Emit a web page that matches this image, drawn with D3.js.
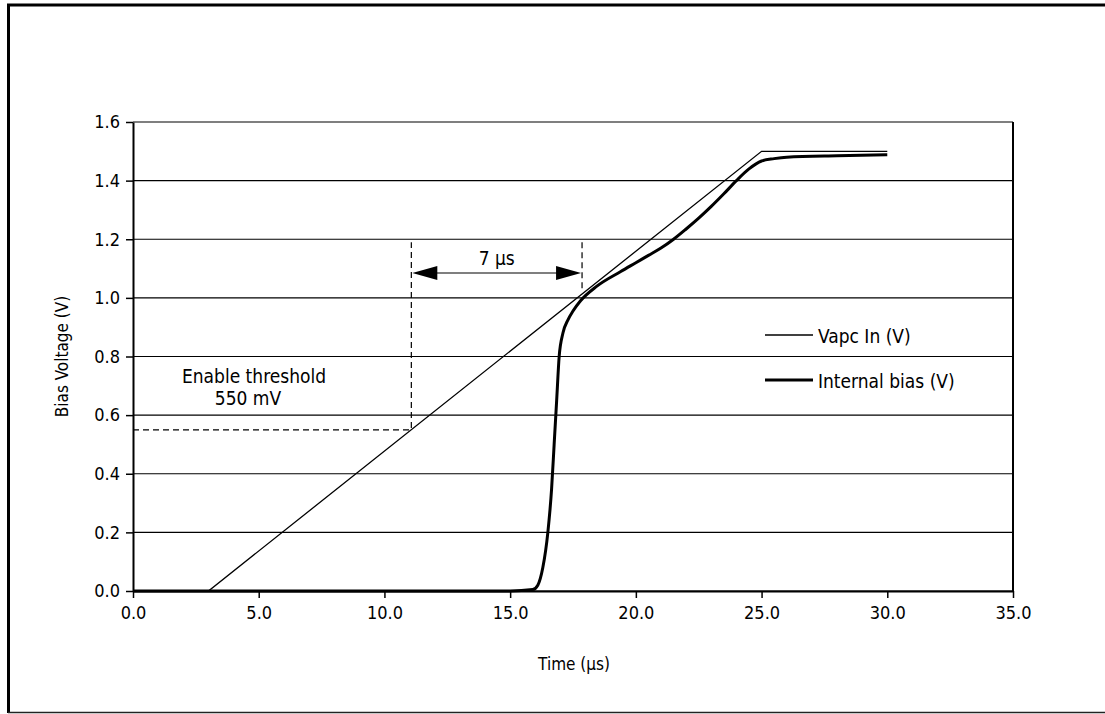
<!DOCTYPE html>
<html>
<head>
<meta charset="utf-8">
<script src="https://cdn.jsdelivr.net/npm/d3@7"></script>
<style>
  body { margin: 0; background: #fff; }
  text { font-family: "Liberation Sans Narrow", "Arial Narrow", "DejaVu Sans Condensed", "Roboto Condensed", sans-serif; fill: #000; }
</style>
</head>
<body>
<svg width="1105" height="714"></svg>
<script>
// Vapc In (V)
const vapcTime = [0, 3.0, 25.0, 30.0]
const vapcValue = [0, 0, 1.5, 1.5]

// Internal bias (V)
const biasTime = [0, 15.0, 15.9, 16.1, 16.3, 16.5, 16.65, 16.75, 16.85, 16.95, 17.1, 17.3, 17.5, 17.8, 18.45, 19.4, 20.0, 20.5, 21.0, 21.5, 22.0, 22.5, 23.0, 23.5, 24.0, 24.5, 25.0, 25.5, 26.0, 28.0, 30.0]
const biasValue = [0, 0, 0.005, 0.02, 0.08, 0.2, 0.35, 0.5, 0.65, 0.8, 0.88, 0.925, 0.955, 0.99, 1.04, 1.09, 1.12, 1.145, 1.17, 1.2, 1.235, 1.272, 1.312, 1.355, 1.4, 1.44, 1.467, 1.475, 1.48, 1.485, 1.488]

const xTicks = [0, 5, 10, 15, 20, 25, 30, 35]
const yTicks = [0, 0.2, 0.4, 0.6, 0.8, 1.0, 1.2, 1.4, 1.6]

const threshold = 0.55
const thresholdTime = 11.07
const delayEnd = 17.86
const delayLabel = '7 µs'

const svg = d3.select('svg')
const plotL = 133, plotR = 1013, plotT = 122, plotB = 591

const x = d3.scaleLinear().domain([0, 35]).range([plotL, plotR])
const y = d3.scaleLinear().domain([0, 1.6]).range([plotB, plotT])

// outer border
svg.append('line').attr('x1', 7).attr('x2', 1105).attr('y1', 5).attr('y2', 5)
    .style('stroke', '#000').style('stroke-width', 3)
svg.append('line').attr('x1', 8.5).attr('x2', 8.5).attr('y1', 4).attr('y2', 713)
    .style('stroke', '#000').style('stroke-width', 3)
svg.append('line').attr('x1', 8).attr('x2', 1105).attr('y1', 712.5).attr('y2', 712.5)
    .style('stroke', '#222').style('stroke-width', 1.5)

// gridlines
svg.append('g').selectAll('line').data(yTicks).join('line')
    .attr('x1', plotL).attr('x2', plotR)
    .attr('y1', d => y(d)).attr('y2', d => y(d))
    .style('stroke', '#000').style('stroke-width', 1.2)

// axes
const xAxis = svg.append('g').attr('transform', `translate(0,${plotB})`)
    .call(d3.axisBottom(x).tickValues(xTicks).tickSize(7).tickSizeOuter(0).tickPadding(8).tickFormat(d3.format('.1f')))
const yAxis = svg.append('g').attr('transform', `translate(${plotL},0)`)
    .call(d3.axisLeft(y).tickValues(yTicks).tickSize(7).tickSizeOuter(0).tickPadding(6).tickFormat(d3.format('.1f')))
for (const ax of [xAxis, yAxis]) {
    ax.select('.domain').style('stroke', '#000').style('stroke-width', 2)
    ax.selectAll('.tick line').style('stroke', '#000').style('stroke-width', 1.5)
    ax.selectAll('.tick text').style('font-size', '18px')
}
// right frame
svg.append('line').attr('x1', plotR).attr('x2', plotR).attr('y1', plotT).attr('y2', plotB)
    .style('stroke', '#000').style('stroke-width', 2)

// threshold annotation
svg.append('path')
    .attr('d', `M${plotL},${y(threshold)}H${x(thresholdTime)}V${y(1.19)}`)
    .style('fill', 'none').style('stroke', '#000').style('stroke-width', 1.2).style('stroke-dasharray', '6,4')
svg.append('line')
    .attr('x1', x(delayEnd)).attr('x2', x(delayEnd)).attr('y1', y(1.19)).attr('y2', y(1.02))
    .style('stroke', '#000').style('stroke-width', 1.2).style('stroke-dasharray', '6,4')

svg.append('text').attr('x', 254).attr('y', 383).attr('text-anchor', 'middle')
    .style('font-size', '19px').text('Enable threshold')
svg.append('text').attr('x', 248).attr('y', 405).attr('text-anchor', 'middle')
    .style('font-size', '19px').text('550 mV')

// 7 us arrow
const ay = 273
const ax0 = x(thresholdTime), ax1 = x(delayEnd)
svg.append('line').attr('x1', ax0 + 20).attr('x2', ax1 - 20).attr('y1', ay).attr('y2', ay)
    .style('stroke', '#000').style('stroke-width', 1.2)
svg.append('path').attr('d', `M${ax0 + 1},${ay}L${ax0 + 26},${ay - 7}L${ax0 + 26},${ay + 7}Z`).style('fill', '#000')
svg.append('path').attr('d', `M${ax1 - 1},${ay}L${ax1 - 26},${ay - 7}L${ax1 - 26},${ay + 7}Z`).style('fill', '#000')
svg.append('text').attr('x', (ax0 + ax1) / 2).attr('y', 265).attr('text-anchor', 'middle')
    .style('font-size', '19px').text(delayLabel)

// series
const line = d3.line().x(d => x(d[0])).y(d => y(d[1]))
svg.append('path').datum(d3.zip(vapcTime, vapcValue))
    .attr('d', line)
    .style('fill', 'none').style('stroke', '#000').style('stroke-width', 1.3)
svg.append('path').datum(d3.zip(biasTime, biasValue))
    .attr('d', line.curve(d3.curveMonotoneX))
    .style('fill', 'none').style('stroke', '#000').style('stroke-width', 3).style('stroke-linejoin', 'round')

// legend
const legend = [
    { name: 'Vapc In (V)', width: 1.3, y: 335 },
    { name: 'Internal bias (V)', width: 3, y: 380 }
]
legend.forEach(l => {
    svg.append('line').attr('x1', 765).attr('x2', 813).attr('y1', l.y).attr('y2', l.y)
        .style('stroke', '#000').style('stroke-width', l.width)
    svg.append('text').attr('x', 818).attr('y', l.y + 8).style('font-size', '19px').text(l.name)
})

// axis titles
svg.append('text').attr('x', 574).attr('y', 670).attr('text-anchor', 'middle')
    .style('font-size', '17px').text('Time (µs)')
svg.append('text').attr('transform', `translate(68,${(plotT + plotB) / 2}) rotate(-90)`)
    .attr('text-anchor', 'middle').style('font-size', '17px').text('Bias Voltage (V)')
</script>
</body>
</html>
